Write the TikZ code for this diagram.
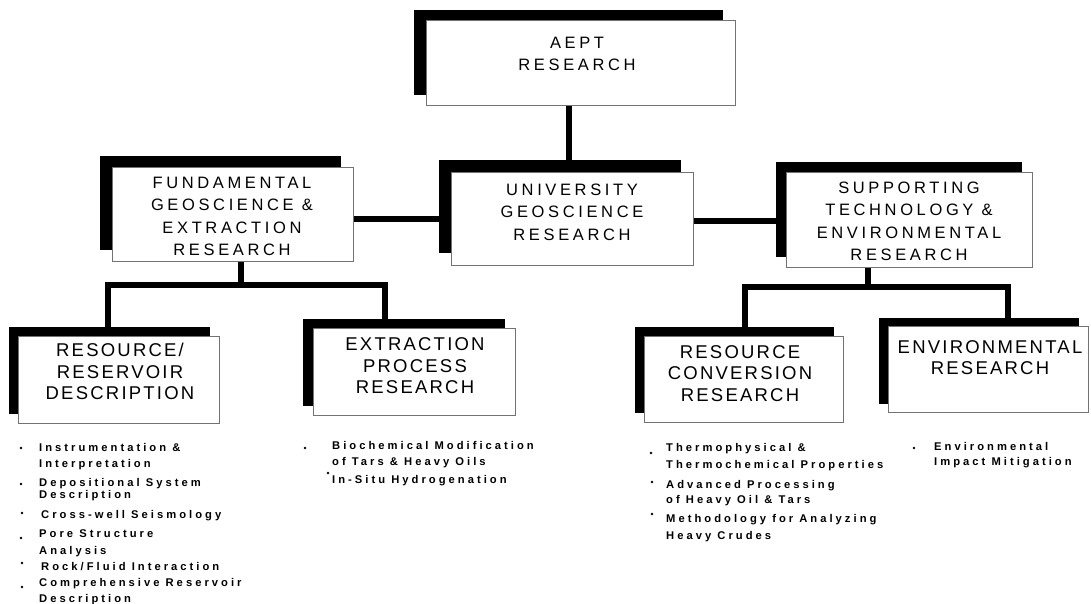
\documentclass[tikz,border=0pt]{standalone}
\usepackage{fontspec}
\setmainfont{Liberation Sans}
\newfontfamily\titleA{Liberation Sans}[LetterSpace=22]
\newfontfamily\titleB{Liberation Sans}[LetterSpace=12]
\newfontfamily\listfont{Liberation Sans}[LetterSpace=27]
\usetikzlibrary{shadows}
\pgfdeclarelayer{bg}
\pgfsetlayers{bg,main}
\begin{document}
\begin{tikzpicture}[x=1pt,y=-1pt,
  orgbox/.style n args={4}{draw=black!55, line width=0.8pt, fill=white, inner sep=0pt,
    minimum width=#1, minimum height=#2,
    general shadow={fill=black, shadow xshift=#3, shadow yshift=#4}},
  titA/.style={font=\titleA\fontsize{16.5}{22.5}\selectfont, align=center, inner sep=0pt},
  titB/.style={font=\titleB\fontsize{18.5}{21.5}\selectfont, align=center, inner sep=0pt},
  conn/.style={line width=6.5pt, line join=miter, draw=black},
  liststy/.style={font=\listfont\bfseries\fontsize{11.2}{16}\selectfont, align=left, inner sep=0pt, anchor=north west},
  bullet/.style={fill=black}]
\begin{pgfonlayer}{bg}
\fill[white] (0,0) rectangle (1091,603);
\end{pgfonlayer}
\useasboundingbox (0,0) rectangle (1091,603);

% boxes
\node[orgbox={309pt}{85pt}{-12pt}{10pt}] (aept) at (580.5,62.5) {};
\node[titA] (aeptT) at (577,54) {AEPT\\RESEARCH};

\node[orgbox={242pt}{93pt}{-12pt}{12pt}] (univ) at (572,218.5) {};
\node[titA] (univT) at (572,212) {UNIVERSITY\\GEOSCIENCE\\RESEARCH};

\node[orgbox={241pt}{94pt}{-12pt}{11pt}] (fund) at (232.5,214) {};
\node[titA] (fundT) at (232,216.5) {FUNDAMENTAL\\GEOSCIENCE \&\\EXTRACTION\\RESEARCH};

\node[orgbox={246pt}{95pt}{-10pt}{10pt}] (supp) at (909,219.5) {};
\node[titA] (suppT) at (909,221.5) {SUPPORTING\\TECHNOLOGY \&\\ENVIRONMENTAL\\RESEARCH};

\node[orgbox={201pt}{87pt}{-9pt}{9pt}] (resr) at (118.5,379.5) {};
\node[titB] (resrT) at (120,371.5) {RESOURCE/\\RESERVOIR\\DESCRIPTION};

\node[orgbox={202pt}{87pt}{-10pt}{9pt}] (extr) at (414,371.5) {};
\node[titB] (extrT) at (415,366) {EXTRACTION\\PROCESS\\RESEARCH};

\node[orgbox={199pt}{86pt}{-9pt}{9pt}] (conv) at (743.5,379) {};
\node[titB] (convT) at (740,373.5) {RESOURCE\\CONVERSION\\RESEARCH};

\node[orgbox={200pt}{86pt}{-9pt}{9pt}] (envr) at (988,369.5) {};
\node[titB] (envrT) at (990,357.5) {ENVIRONMENTAL\\RESEARCH};

% junction coordinates
\coordinate (xa) at (569,0);
\coordinate (fjM) at (241,285);
\coordinate (fjL) at (108,285);
\coordinate (fjR) at (385,285);
\coordinate (sjM) at (868,287);
\coordinate (sjL) at (745,287);
\coordinate (sjR) at (1008,287);

\begin{pgfonlayer}{bg}
\draw[conn] (aept.south -| xa) -- (univ.north -| xa);
\draw[conn] ([yshift=-5pt]fund.east) -- ([yshift=-5pt]fund.east -| univ.west);
\draw[conn] ([yshift=-2.5pt]univ.east) -- ([yshift=-2.5pt]univ.east -| supp.west);
\draw[conn] (fund.south -| fjM) -- (fjM);
\draw[conn] (resr.north -| fjL) -- (fjL) -- (fjR) -- (extr.north -| fjR);
\draw[conn] (supp.south -| sjM) -- (sjM);
\draw[conn] (conv.north -| sjL) -- (sjL) -- (sjR) -- (envr.north -| sjR);
\end{pgfonlayer}

% lists
\node[liststy] (r1) at (39,443) {Instrumentation \&\\Interpretation};
\node[liststy] (r2) at (39,478) {Depositional System\\[-4pt]Description};
\node[liststy] (r3) at (41,510) {Cross-well Seismology};
\node[liststy] (r4) at (39,529) {Pore Structure\\[1pt]Analysis};
\node[liststy] (r5) at (41,562) {Rock/Fluid Interaction};
\node[liststy] (r6) at (39,578) {Comprehensive Reservoir\\Description};

\node[liststy] (e1) at (332,441) {Biochemical Modification\\of Tars \& Heavy Oils};
\node[liststy] (e2) at (332,475) {In-Situ Hydrogenation};

\node[liststy] (c1) at (666,443) {Thermophysical \&\\[1pt]Thermochemical Properties};
\node[liststy] (c2) at (666,480) {Advanced Processing\\[-1pt]of Heavy Oil \& Tars};
\node[liststy] (c3) at (666,514) {Methodology for Analyzing\\[1pt]Heavy Crudes};

\node[liststy] (v1) at (934,442) {Environmental\\[-1pt]Impact Mitigation};

% bullets
\foreach \p in {(21,448),(21,484),(22,513),(21,538),(22,563),(22,587),
                (305,448),(328,473),(651,453),(652,482),(652,514),(914,448)}
  \fill[bullet] \p circle (1.4pt);
\end{tikzpicture}
\end{document}
